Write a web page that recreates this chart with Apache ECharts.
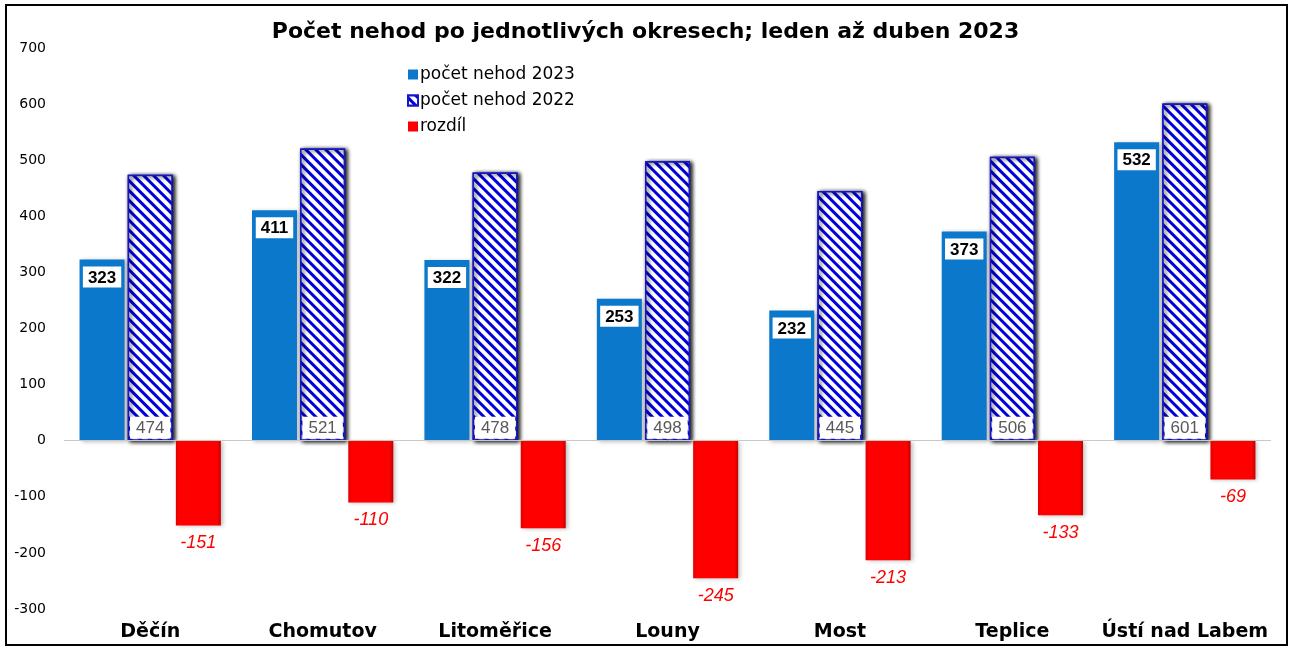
<!DOCTYPE html>
<html>
<head>
<meta charset="utf-8">
<script src="https://cdn.jsdelivr.net/npm/echarts@6/dist/echarts.min.js"></script>
<style>
  html, body { margin: 0; padding: 0; background: #fff; }
  #chart { width: 1291px; height: 648px; }
</style>
</head>
<body>
<div id="chart"></div>
<script>
// data
const okresy = ["Děčín", "Chomutov", "Litoměřice", "Louny", "Most", "Teplice", "Ústí nad Labem"];
const nehody2023 = [323, 411, 322, 253, 232, 373, 532];
const nehody2022 = [474, 521, 478, 498, 445, 506, 601];
const rozdil = [-151, -110, -156, -245, -213, -133, -69];

const myChart = echarts.init(document.getElementById("chart"));

const shadow = {
  shadowColor: "rgba(0,0,0,0.25)",
  shadowBlur: 4,
  shadowOffsetX: 2,
  shadowOffsetY: 1,
};

const option = {
  animation: false,
  backgroundColor: "#fff",
  textStyle: { fontFamily: "Liberation Sans, Arial, sans-serif" },
  title: {
    text: "Počet nehod po jednotlivých okresech; leden až duben 2023",
    left: "center",
    top: 16,
    textStyle: { fontSize: 22, fontWeight: "bold", color: "#000", fontFamily: "DejaVu Sans" },
  },
  graphic: [
    {
      type: "rect",
      shape: { x: 6, y: 5, width: 1281, height: 640 },
      style: { fill: "none", stroke: "#000", lineWidth: 2 },
      silent: true,
    },
  ],
  legend: {
    orient: "vertical",
    left: 402,
    top: 61,
    icon: "rect",
    itemWidth: 10,
    itemHeight: 10,
    itemGap: 9,
    textStyle: { fontSize: 17, color: "#000", fontFamily: "DejaVu Sans", padding: [0, 0, 0, -3] },
    data: ["počet nehod 2023", "počet nehod 2022", "rozdíl"],
  },
  grid: {
    left: 64,
    right: 20,
    top: 48,
    bottom: 39,
  },
  xAxis: {
    type: "category",
    data: okresy,
    axisLine: { show: false, onZero: false },
    axisTick: { show: false },
    axisLabel: {
      interval: 0,
      margin: 14,
      fontSize: 19,
      fontWeight: "bold",
      color: "#000",
      fontFamily: "DejaVu Sans",
    },
  },
  yAxis: {
    type: "value",
    min: -300,
    max: 700,
    interval: 100,
    axisLine: { show: false },
    axisTick: { show: false },
    splitLine: { show: false },
    axisLabel: {
      margin: 18,
      fontSize: 14,
      color: "#000",
      fontFamily: "DejaVu Sans",
    },
  },
  series: [
    {
      name: "počet nehod 2023",
      type: "bar",
      barWidth: 45,
      barGap: "7%",
      barCategoryGap: "18%",
      data: nehody2023,
      itemStyle: Object.assign({ color: "#0B78CC" }, shadow),
      label: {
        show: true,
        position: "insideTop",
        distance: 7,
        backgroundColor: "#fff",
        padding: [3, 5, 1, 5],
        fontSize: 17,
        fontWeight: "bold",
        color: "#000",
      },
      markLine: {
        silent: true,
        symbol: "none",
        label: { show: false },
        lineStyle: { color: "#c8c8c8", type: "solid", width: 1 },
        data: [{ yAxis: 0 }],
      },
    },
    {
      name: "počet nehod 2022",
      type: "bar",
      barWidth: 45,
      data: nehody2022,
      itemStyle: Object.assign({
        color: "#fff",
        borderColor: "#1515CC",
        borderWidth: 1.5,
        decal: {
          symbol: "rect",
          symbolSize: 1,
          dashArrayX: [1, 0],
          dashArrayY: [3, 4],
          rotation: Math.PI / 4,
          color: "#0000DD",
          backgroundColor: "#fff",
        },
      }, shadow),
      label: {
        show: true,
        position: "insideBottom",
        distance: 2,
        backgroundColor: "#fff",
        padding: [3, 6, 2, 6],
        fontSize: 17,
        color: "#595959",
      },
    },
    {
      name: "rozdíl",
      type: "bar",
      barWidth: 45,
      data: rozdil,
      itemStyle: Object.assign({
        color: new echarts.graphic.LinearGradient(0, 0, 1, 0, [
          { offset: 0, color: "#E00000" },
          { offset: 0.08, color: "#FF0000" },
          { offset: 0.92, color: "#FF0000" },
          { offset: 1, color: "#C00000" },
        ]),
      }, shadow),
      label: {
        show: true,
        position: "bottom",
        distance: 9,
        fontSize: 18,
        fontStyle: "italic",
        color: "#FF0000",
      },
    },
  ],
};

myChart.setOption(option);
</script>
</body>
</html>
